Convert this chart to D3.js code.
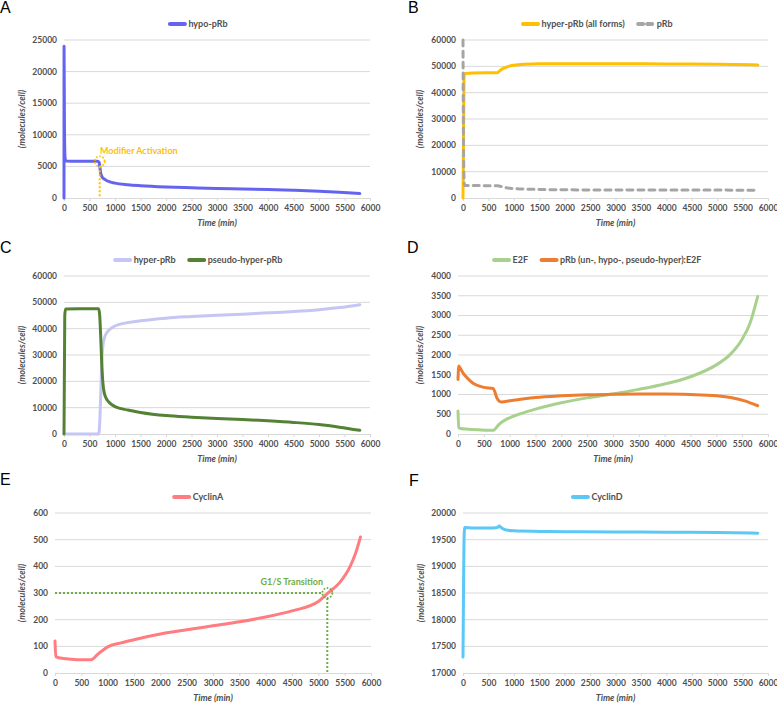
<!DOCTYPE html>
<html lang="en">
<head>
<meta charset="utf-8">
<title>pRb / E2F / Cyclin simulation</title>
<style>
  body { margin: 0; background: #fff; }
  text { font-family: Lato, "Liberation Sans", sans-serif; }
  .tick-label { font-size: 8.5px; font-weight: 700; fill: #505050; }
  .axis-title { font-size: 9px; font-weight: 700; font-style: italic; fill: #505050; }
  .legend-label { font-size: 9px; font-weight: 700; fill: #505050; }
  .panel-letter { font-family: "Liberation Sans", Arial, sans-serif; font-size: 16px; fill: #000; }
  .note { font-size: 9px; font-weight: 700; }
</style>
</head>
<body>
<div id="chart"></div>
<script src="https://d3js.org/d3.v7.min.js"></script>
<script>
// ---- data: [time (min), molecules/cell] ----
const timeTicks = d3.range(0, 6001, 500);

const hypoPRb = [[0,0],[1,24000],[8,12000],[20,6500],[35,5850],[200,5820],[500,5800],[660,5800],[690,5600],[705,4800],[720,3900],[750,3300],[800,2950],[900,2550],[1000,2350],[1250,2100],[1500,1950],[2000,1750],[2500,1620],[3000,1500],[3500,1420],[4000,1330],[4500,1220],[5000,1080],[5400,920],[5800,700]];

const hyperAllForms = [[0,0],[20,46000],[40,47300],[200,47500],[680,47600],[720,48300],[800,49300],[900,50000],[1000,50400],[1200,50800],[1500,51000],[2000,51000],[3000,51000],[4000,50900],[5000,50800],[5800,50500]];
const pRb = [[0,60000],[10,20000],[25,5500],[40,4700],[300,4700],[680,4650],[750,4400],[850,3900],[1000,3600],[1250,3350],[1500,3250],[2000,3100],[3000,3050],[4000,3000],[5000,3000],[5800,2900]];

const hyperPRb = [[0,0],[300,0],[680,0],[700,4000],[720,15000],[740,27000],[760,33000],[800,37000],[900,39800],[1000,41000],[1250,42300],[1500,43000],[2000,44000],[2500,44600],[3000,45100],[3500,45500],[4000,46000],[4500,46500],[5000,47200],[5400,48000],[5800,49100]];
const pseudoHyperPRb = [[0,0],[15,45000],[30,47500],[300,47600],[680,47600],[700,45000],[720,37000],[740,27000],[760,20000],[790,15500],[850,12800],[900,11700],[1000,10400],[1250,9100],[1500,8200],[2000,7000],[2500,6400],[3000,5900],[3500,5500],[4000,5000],[4500,4400],[5000,3600],[5400,2600],[5800,1400]];

const e2f = [[0,580],[15,160],[50,140],[200,120],[400,105],[600,95],[690,95],[740,160],[800,250],[900,345],[1000,410],[1250,530],[1500,630],[1750,715],[2000,790],[2500,915],[3000,1015],[3500,1130],[4000,1265],[4500,1450],[5000,1750],[5250,1990],[5500,2400],[5650,2800],[5800,3480]];
const pRbE2F = [[0,1380],[15,1720],[50,1650],[100,1540],[200,1390],[300,1280],[400,1220],[500,1180],[680,1150],[710,1080],[750,920],[800,830],[850,810],[1000,840],[1500,925],[2000,968],[2500,995],[3000,1005],[3500,1012],[4000,1012],[4500,1000],[5000,970],[5300,920],[5550,840],[5800,715]];

const cyclinA = [[0,120],[15,62],[100,56],[300,52],[500,50],[690,50],[740,56],[800,68],[900,84],[1000,98],[1250,113],[1500,125],[2000,146],[2500,162],[3000,177],[3500,192],[4000,210],[4500,233],[5000,268],[5170,298],[5400,338],[5600,398],[5700,445],[5800,510]];

const cyclinD = [[0,17300],[10,18500],[20,19500],[35,19730],[200,19720],[600,19720],[680,19730],[710,19755],[760,19720],[850,19680],[1000,19665],[1500,19655],[2000,19650],[3000,19645],[4000,19640],[5000,19635],[5800,19620]];

// annotation points
const modifierPoint = [700, 5800];
const g1sPoint = [5170, 300];

// ---- layout ----
const width = 777, height = 703;
const svg = d3.select("#chart").append("svg")
    .attr("width", width).attr("height", height)
    .attr("viewBox", [0, 0, width, height]);

const panels = [
  { letter: "A", lx: 0, ly: 13, box: [64, 370, 40, 198], y: [0, 25000, 5000], legend: [198, 24], yTitleX: 22,
    series: [{ name: "hypo-pRb", data: hypoPRb, color: "#6464f0" }] },
  { letter: "B", lx: 408, ly: 13, box: [463, 768, 40, 198], y: [0, 60000, 10000], legend: [597, 24], yTitleX: 420,
    series: [{ name: "hyper-pRb (all forms)", data: hyperAllForms, color: "#ffc000" },
             { name: "pRb", data: pRb, color: "#a5a5a5", dash: "6,5" }] },
  { letter: "C", lx: 0, ly: 253, box: [64, 370, 276, 434], y: [0, 60000, 10000], legend: [198, 260], yTitleX: 22,
    series: [{ name: "hyper-pRb", data: hyperPRb, color: "#c6c6f4" },
             { name: "pseudo-hyper-pRb", data: pseudoHyperPRb, color: "#548235" }] },
  { letter: "D", lx: 407, ly: 253, box: [458, 768, 276, 434], y: [0, 4000, 500], legend: [597, 260], yTitleX: 420,
    series: [{ name: "E2F", data: e2f, color: "#a9d18e" },
             { name: "pRb (un-, hypo-, pseudo-hyper):E2F", data: pRbE2F, color: "#ed7d31" }] },
  { letter: "E", lx: 0, ly: 485, box: [55, 371, 513, 673], y: [0, 600, 100], legend: [198, 497], yTitleX: 22,
    series: [{ name: "CyclinA", data: cyclinA, color: "#ff7c80" }] },
  { letter: "F", lx: 409, ly: 486, box: [463, 768, 513, 673], y: [17000, 20000, 500], legend: [597, 497], yTitleX: 421,
    series: [{ name: "CyclinD", data: cyclinD, color: "#5bc8f5" }] }
];

const scales = {};

const drawPanel = (p) => {
  const [x0, x1, y0, y1] = p.box;
  const x = d3.scaleLinear().domain([0, 6000]).range([x0, x1]);
  const y = d3.scaleLinear().domain([p.y[0], p.y[1]]).range([y1, y0]);
  scales[p.letter] = { x, y };
  const g = svg.append("g");

  g.append("text").attr("class", "panel-letter")
      .attr("x", p.lx).attr("y", p.ly).text(p.letter);

  // grid
  const yTicks = d3.range(p.y[0], p.y[1] + 1, p.y[2]);
  g.append("g").selectAll("line")
    .data(yTicks.slice(1))
    .join("line")
      .attr("x1", x0).attr("x2", x1)
      .attr("y1", d => y(d)).attr("y2", d => y(d))
      .attr("stroke", "#d9d9d9").attr("stroke-width", 1);

  // x axis
  const xAxis = g.append("g").attr("transform", `translate(0,${y1})`)
      .call(d3.axisBottom(x).tickValues(timeTicks).tickSize(3).tickPadding(4).tickFormat(d3.format("d")));
  xAxis.select(".domain").attr("stroke", "#d9d9d9");
  xAxis.selectAll(".tick line").attr("stroke", "#d9d9d9");
  xAxis.selectAll("text").attr("class", "tick-label").attr("fill", null);

  // y labels
  g.append("g").selectAll("text")
    .data(yTicks)
    .join("text")
      .attr("class", "tick-label")
      .attr("x", x0 - 7)
      .attr("y", d => y(d))
      .attr("dy", "0.35em")
      .attr("text-anchor", "end")
      .text(d => d);

  g.append("text").attr("class", "axis-title")
      .attr("transform", `translate(${p.yTitleX},${(y0 + y1) / 2}) rotate(-90)`)
      .attr("text-anchor", "middle").attr("dy", "0.35em")
      .text("(molecules/cell)");

  g.append("text").attr("class", "axis-title")
      .attr("x", (x0 + x1) / 2).attr("y", y1 + 28)
      .attr("text-anchor", "middle")
      .text("Time (min)");

  // series
  const line = d3.line().x(d => x(d[0])).y(d => y(d[1])).curve(d3.curveMonotoneX);
  g.append("g").selectAll("path")
    .data(p.series)
    .join("path")
      .attr("d", s => line(s.data))
      .attr("fill", "none")
      .attr("stroke", s => s.color)
      .attr("stroke-width", 3)
      .attr("stroke-linejoin", "round")
      .attr("stroke-linecap", "round")
      .attr("stroke-dasharray", s => s.dash || null);

  // legend, centred on p.legend[0]
  const leg = g.append("g");
  let cx = 0;
  p.series.forEach((s, i) => {
    if (i > 0) cx += 12;
    leg.append("line")
        .attr("x1", cx + 1.5).attr("x2", cx + 16.5)
        .attr("y1", p.legend[1]).attr("y2", p.legend[1])
        .attr("stroke", s.color).attr("stroke-width", 4)
        .attr("stroke-linecap", "round")
        .attr("stroke-dasharray", s.dash ? "5,4" : null);
    const t = leg.append("text").attr("class", "legend-label")
        .attr("x", cx + 20).attr("y", p.legend[1]).attr("dy", "0.35em")
        .text(s.name);
    cx += 20 + t.node().getComputedTextLength();
  });
  leg.attr("transform", `translate(${p.legend[0] - cx / 2},0)`);
};

panels.forEach(drawPanel);

// annotations
const annotate = (letter, pt, color, label, labelX, labelY, anchor) => {
  const { x, y } = scales[letter];
  const g = svg.append("g");
  const [px, py] = [x(pt[0]), y(pt[1])];
  g.append("circle")
      .attr("cx", px).attr("cy", py).attr("r", 5)
      .attr("fill", "none").attr("stroke", color)
      .attr("stroke-width", 1.8).attr("stroke-dasharray", "1.6,1.6");
  g.append("line")
      .attr("x1", px).attr("x2", px)
      .attr("y1", py + 5).attr("y2", y(y.domain()[0]))
      .attr("stroke", color).attr("stroke-width", 2).attr("stroke-dasharray", "2,2");
  g.append("text").attr("class", "note")
      .attr("x", labelX).attr("y", labelY)
      .attr("text-anchor", anchor)
      .attr("fill", color)
      .text(label);
  return { g, px, py, x, y };
};

annotate("A", modifierPoint, "#ffc000", "Modifier Activation", 100, 154, "start");
const g1 = annotate("E", g1sPoint, "#70ad47", "G1/S Transition", 323, 585, "end");
g1.g.append("line")
    .attr("x1", g1.x(0)).attr("x2", g1.px - 5)
    .attr("y1", g1.py).attr("y2", g1.py)
    .attr("stroke", "#70ad47").attr("stroke-width", 2).attr("stroke-dasharray", "2,2");
</script>
</body>
</html>
